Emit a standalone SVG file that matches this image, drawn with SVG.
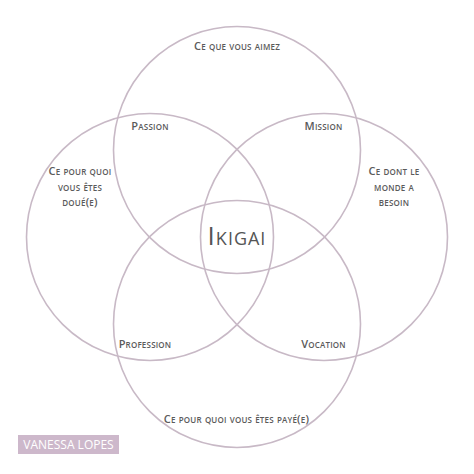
<svg xmlns="http://www.w3.org/2000/svg" width="474" height="474" viewBox="0 0 474 474">
<style>
.c{fill:none;stroke:#c8b9c6;stroke-width:1.6}
.t{font-family:"Open Sans","Liberation Sans",sans-serif;font-variant:small-caps;font-size:11px;font-weight:600;fill:#5a5a5a;text-anchor:middle;letter-spacing:0.2px}
.big{font-family:"Open Sans","Liberation Sans",sans-serif;font-variant:small-caps;font-size:26px;fill:#555;text-anchor:middle;letter-spacing:1px}
.sig{font-family:"Open Sans","Liberation Sans",sans-serif;font-size:12px;fill:#fff;text-anchor:middle}
</style>
<rect width="474" height="474" fill="#fff"/>
<g id="aimez"><circle class="c" cx="237" cy="150" r="123.5"/><text class="t" x="237" y="50">Ce que vous aimez</text></g>
<g id="doue"><circle class="c" cx="150" cy="237" r="123.5"/><text class="t" x="80" y="175">Ce pour quoi</text><text class="t" x="80" y="190.5">vous êtes</text><text class="t" x="80" y="205.7">doué(e)</text></g>
<g id="besoin"><circle class="c" cx="324" cy="237" r="123.5"/><text class="t" x="394" y="175">Ce dont le</text><text class="t" x="394" y="190.5">monde a</text><text class="t" x="394" y="205.7">besoin</text></g>
<g id="paye"><circle class="c" cx="237" cy="324" r="123.5"/><text class="t" x="236.5" y="422.7">Ce pour quoi vous êtes payé(e)</text></g>
<g id="passion"><text class="t" x="150" y="130">Passion</text></g>
<g id="mission"><text class="t" x="323.5" y="130">Mission</text></g>
<g id="profession"><text class="t" x="145" y="348">Profession</text></g>
<g id="vocation"><text class="t" x="323.5" y="348">Vocation</text></g>
<g id="ikigai"><text class="big" x="237" y="245">Ikigai</text></g>
<g id="signature"><rect x="18" y="435" width="101" height="19" fill="#cdb8cb"/><text class="sig" x="68.5" y="449.3">VANESSA LOPES</text></g>
</svg>
